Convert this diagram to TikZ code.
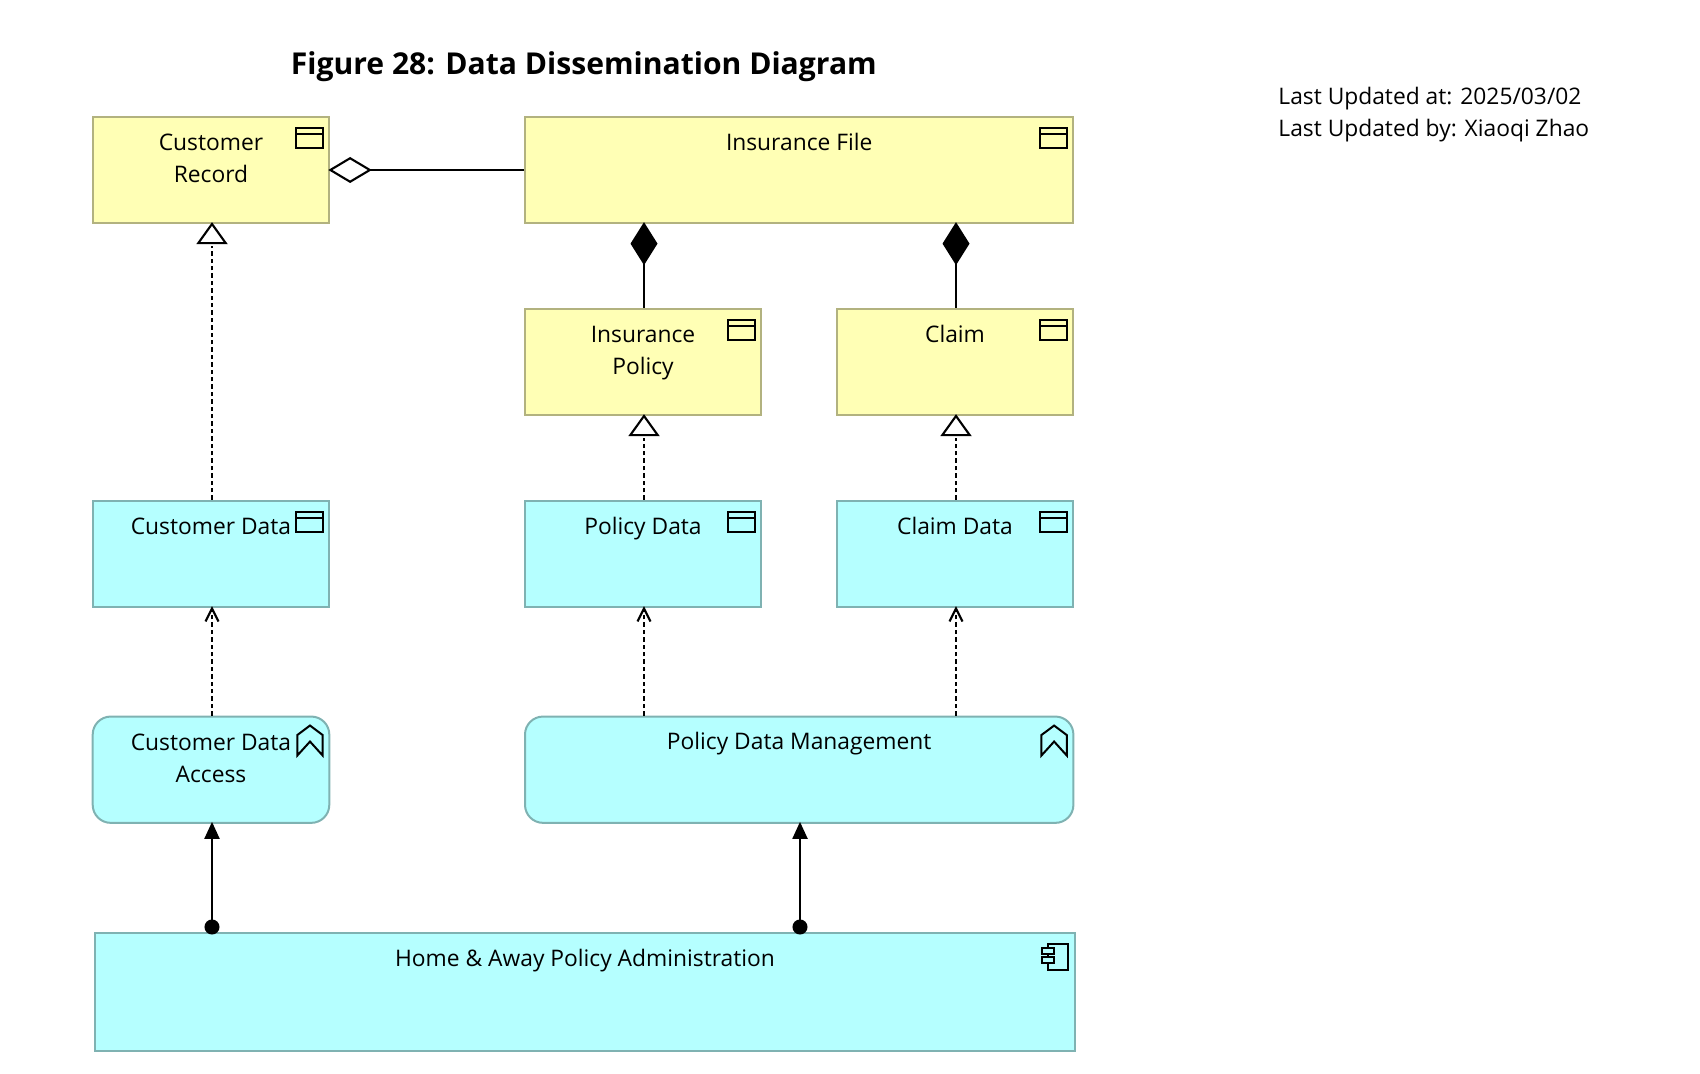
\documentclass[tikz,border=0pt]{standalone}
\usepackage{fontspec}
\setmainfont{Open Sans}
\usetikzlibrary{arrows.meta,positioning}

\definecolor{datafill}{HTML}{FFFFB5}
\definecolor{dataedge}{HTML}{B2B27F}
\definecolor{appfill}{HTML}{B5FFFF}
\definecolor{appedge}{HTML}{7FB2B2}

\tikzset{
  elem/.style={draw,line width=1pt,inner sep=0pt,minimum width=118.3pt,minimum height=53.15pt},
  wide/.style={minimum width=274.2pt},
  bizobj/.style={elem,fill=datafill,draw=dataedge},
  appdata/.style={elem,fill=appfill,draw=appedge},
  appfunc/.style={appdata,rounded corners=9pt},
  lbl/.style={inner sep=0pt,align=center,font=\fontsize{11.4}{16}\selectfont,execute at begin node=\strut},
  icon/.style={line width=1pt,black},
  conn/.style={line width=1.05pt,black,shorten >=-1pt},
  realizes/.style={conn,dash pattern=on 2.2pt off 1.5pt,
    -{Rectangle[white,length=1pt,width=2pt]Triangle[open,fill=white,length=11pt,width=15.5pt]}},
  accesses/.style={conn,dash pattern=on 2.2pt off 1.5pt,-{Straight Barb[length=6.5pt,width=6.5pt]}},
  serves/.style={conn,shorten <=-1.4pt,{Circle[length=7.5pt]}-{Triangle[length=8.5pt,width=7.5pt]}},
  composed/.style={conn,-{Diamond[length=21.5pt,width=13.5pt]}},
  aggregated/.style={conn,-{Diamond[open,fill=white,length=21.8pt,width=13pt]}}
}

\newcommand{\dataicon}[1]{\draw[icon,shift={(#1.north east)}] (-34.6,12) rectangle (-7.6,32.6) (-34.6,18.6) -- (-7.6,18.6);}
\newcommand{\funcicon}[1]{\draw[icon,shift={(#1.north east)},line join=miter] (-33,40) -- (-33,19.5) -- (-20.3,10) -- (-7.6,19.5) -- (-7.6,40) -- (-20.3,26) -- cycle;}

\begin{document}
\begin{tikzpicture}[x=0.5pt,y=-0.5pt]
\useasboundingbox (0,0) rectangle (1700,1074);

% Title and update note
\node[inner sep=0pt,anchor=west,font=\fontsize{15.05}{18}\selectfont\bfseries] (title) at (290.5,66.5) {Figure 28: Data Dissemination Diagram};
\node[lbl,anchor=north west,align=left] (updated) at (1278,87.2) {Last Updated at: 2025/03/02\\Last Updated by: Xiaoqi Zhao};

% Business objects
\node[bizobj] (custrecord) at (211,170) {};
\node[bizobj,wide] (insfile) at (799.2,170) {};
\node[bizobj] (inspolicy) at (643,362) {};
\node[bizobj] (claim) at (955,362) {};

% Data objects
\node[appdata] (custdata) at (211,554) {};
\node[appdata] (poldata) at (643,554) {};
\node[appdata] (claimdata) at (955,554) {};

% Application functions
\node[appfunc] (custaccess) at (211,769.7) {};
\node[appfunc,wide] (polmgmt) at (799.2,769.7) {};

% Application component
\node[appdata,minimum width=490pt,minimum height=59pt] (homeaway) at (585,991.7) {};

% Labels
\node[lbl,below=9pt of custrecord.north] (custrecordtxt) {Customer\\Record};
\node[lbl,below=5.8pt of insfile.north] (insfiletxt) {Insurance File};
\node[lbl,below=9pt of inspolicy.north] (inspolicytxt) {Insurance\\Policy};
\node[lbl,below=5.8pt of claim.north] (claimtxt) {Claim};
\node[lbl,below=5.8pt of custdata.north] (custdatatxt) {Customer Data};
\node[lbl,below=5.8pt of poldata.north] (poldatatxt) {Policy Data};
\node[lbl,below=5.8pt of claimdata.north] (claimdatatxt) {Claim Data};
\node[lbl,below=9pt of custaccess.north] (custaccesstxt) {Customer Data\\Access};
\node[lbl,below=5.8pt of polmgmt.north] (polmgmttxt) {Policy Data Management};
\node[lbl,below=5.8pt of homeaway.north] (homeawaytxt) {Home \& Away Policy Administration};

% Icons
\dataicon{custrecord}
\dataicon{insfile}
\dataicon{inspolicy}
\dataicon{claim}
\dataicon{custdata}
\dataicon{poldata}
\dataicon{claimdata}
\funcicon{custaccess}
\funcicon{polmgmt}
\draw[icon,shift={(homeaway.north east)}] (-28.3,12) rectangle (-7.7,38.3);
\draw[icon,shift={(homeaway.north east)},fill=appfill] (-34.3,16) rectangle (-22,22.3) (-34.3,25.6) rectangle (-22,31.6);

% Connector columns
\coordinate (custcol) at (212,0);
\coordinate (polcol) at (644,0);
\coordinate (claimcol) at (956,0);
\coordinate (mgmtcol) at (800,0);

% Connectors
\draw[aggregated] (insfile.west) -- (custrecord.east);
\draw[composed] (polcol |- inspolicy.north) -- (polcol |- insfile.south);
\draw[composed] (claimcol |- claim.north) -- (claimcol |- insfile.south);
\draw[realizes] (custcol |- custdata.north) -- (custcol |- custrecord.south);
\draw[realizes] (polcol |- poldata.north) -- (polcol |- inspolicy.south);
\draw[realizes] (claimcol |- claimdata.north) -- (claimcol |- claim.south);
\draw[accesses] (custcol |- custaccess.north) -- (custcol |- custdata.south);
\draw[accesses] (polcol |- polmgmt.north) -- (polcol |- poldata.south);
\draw[accesses] (claimcol |- polmgmt.north) -- (claimcol |- claimdata.south);
\draw[serves] (custcol |- homeaway.north) -- (custcol |- custaccess.south);
\draw[serves] (mgmtcol |- homeaway.north) -- (mgmtcol |- polmgmt.south);
\end{tikzpicture}
\end{document}
